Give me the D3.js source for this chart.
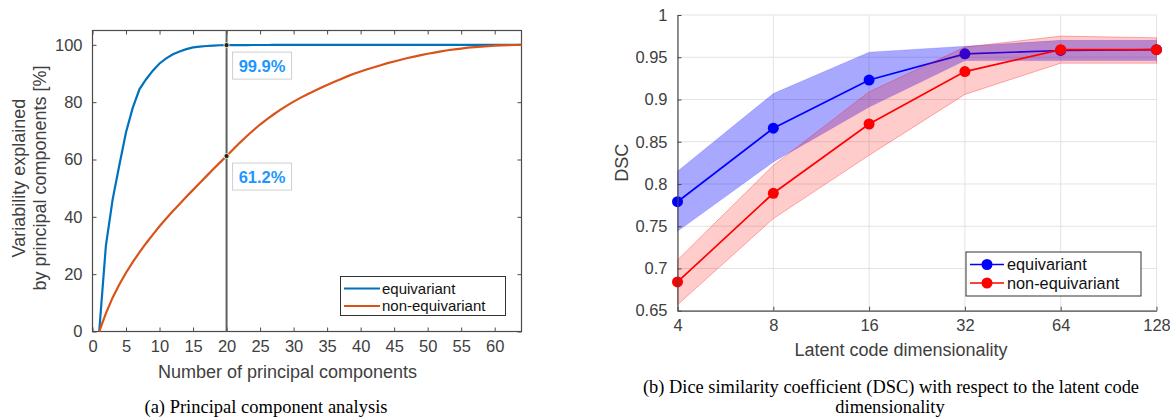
<!DOCTYPE html>
<html>
<head>
<meta charset="utf-8">
<script src="https://d3js.org/d3.v7.min.js"></script>
<style>
  body { margin: 0; background: #fff; }
  svg { display: block; }
  text { font-family: "Liberation Sans", Arial, sans-serif; fill: #404040; }
  .cap { font-family: "Liberation Serif", "Times New Roman", serif; fill: #000; }
</style>
</head>
<body>
<div id="chart"></div>
<script>
// Data: PCA (left)
var components = d3.range(1, 65);
var equivariant = [0, 30, 46, 58, 69.5, 78, 84.5, 88, 91, 93.5,
  95.3, 96.7, 97.7, 98.5, 99.1, 99.4, 99.6, 99.75, 99.85, 99.9,
  99.91, 99.92, 99.93, 99.94, 99.95, 99.95, 99.96, 99.96, 99.97, 99.97,
  99.97, 99.98, 99.98, 99.98, 99.98, 99.99, 99.99, 99.99, 99.99, 99.99,
  99.99, 99.99, 100, 100, 100, 100, 100, 100, 100, 100,
  100, 100, 100, 100, 100, 100, 100, 100, 100, 100,
  100, 100, 100, 100];
var nonEquivariant = [0, 6.3, 11.8, 16.4, 20.5, 24.2, 27.6, 30.8, 33.8, 36.7,
  39.4, 42, 44.5, 47, 49.4, 51.8, 54.2, 56.6, 58.9, 61.2,
  63.6, 65.9, 68.1, 70.2, 72.2, 74, 75.7, 77.3, 78.8, 80.2,
  81.5, 82.7, 83.8, 84.9, 86, 87, 88, 89, 89.9, 90.7,
  91.5, 92.2, 92.9, 93.6, 94.2, 94.8, 95.4, 95.9, 96.4, 96.9,
  97.3, 97.7, 98.1, 98.4, 98.7, 99, 99.2, 99.4, 99.55, 99.7,
  99.8, 99.9, 99.95, 100];
var pcaXTicks = d3.range(0, 61, 5);
var pcaYTicks = [0, 20, 40, 60, 80, 100];
var cutoff = 20;
var tipLabels = ["99.9%", "61.2%"];

// Data: DSC (right)
var dims = [4, 8, 16, 32, 64, 128];
var dscEq = [0.779, 0.866, 0.923, 0.954, 0.958, 0.959];
var dscEqLo = [0.744, 0.826, 0.891, 0.946, 0.946, 0.946];
var dscEqHi = [0.815, 0.907, 0.956, 0.963, 0.970, 0.970];
var dscNon = [0.684, 0.789, 0.871, 0.933, 0.959, 0.959];
var dscNonLo = [0.657, 0.759, 0.834, 0.906, 0.943, 0.943];
var dscNonHi = [0.710, 0.822, 0.909, 0.962, 0.975, 0.973];
var dscYTicks = [0.65, 0.7, 0.75, 0.8, 0.85, 0.9, 0.95, 1];
var legendNames = ["equivariant", "non-equivariant"];

var svg = d3.select("#chart").append("svg")
  .attr("width", 1170).attr("height", 418);

var axisCol = "#4a4a4a";
var tickFont = 16.5;

// ---------- left chart ----------
var L = { left: 92.5, right: 521.5, top: 30.5, bottom: 331.5 };
var x1 = d3.scaleLinear().domain([0, 64]).range([L.left, L.right]);
var y1 = d3.scaleLinear().domain([0, 105]).range([L.bottom, L.top]);
var g1 = svg.append("g");

g1.append("g").attr("transform", `translate(0,${L.bottom})`)
  .call(d3.axisBottom(x1).tickValues(pcaXTicks).tickSizeInner(-4).tickSizeOuter(0).tickPadding(9))
  .call(a => a.select(".domain").remove());
g1.append("g").attr("transform", `translate(0,${L.top})`)
  .call(d3.axisTop(x1).tickValues(pcaXTicks).tickSizeInner(-4).tickSizeOuter(0).tickFormat(""))
  .call(a => a.select(".domain").remove());
g1.append("g").attr("transform", `translate(${L.left},0)`)
  .call(d3.axisLeft(y1).tickValues(pcaYTicks).tickSizeInner(-4).tickSizeOuter(0).tickPadding(10))
  .call(a => a.select(".domain").remove());
g1.append("g").attr("transform", `translate(${L.right},0)`)
  .call(d3.axisRight(y1).tickValues(pcaYTicks).tickSizeInner(-4).tickSizeOuter(0).tickFormat(""))
  .call(a => a.select(".domain").remove());
g1.selectAll(".tick line").attr("stroke", axisCol);
g1.selectAll(".tick text").attr("font-size", tickFont).style("fill", "#404040")
  .attr("font-family", "Liberation Sans, Arial, sans-serif");
g1.append("rect").attr("x", L.left).attr("y", L.top)
  .attr("width", L.right - L.left).attr("height", L.bottom - L.top)
  .attr("fill", "none").attr("stroke", axisCol).attr("stroke-width", 1.2);

var line1 = d3.line().x((d, i) => x1(components[i])).y(d => y1(d));
g1.append("path").datum(equivariant).attr("d", line1)
  .attr("fill", "none").attr("stroke", "#0072BD").attr("stroke-width", 2.2);
g1.append("path").datum(nonEquivariant).attr("d", line1)
  .attr("fill", "none").attr("stroke", "#D95319").attr("stroke-width", 2.2);

// cutoff line
g1.append("line").attr("x1", x1(cutoff)).attr("x2", x1(cutoff))
  .attr("y1", L.top).attr("y2", L.bottom)
  .attr("stroke", "#606060").attr("stroke-width", 2);

// data tips
var tipVals = [equivariant[cutoff - 1], nonEquivariant[cutoff - 1]];
tipVals.forEach(function(v, i) {
  g1.append("circle").attr("cx", x1(cutoff)).attr("cy", y1(v)).attr("r", 2.6)
    .attr("fill", "#222").attr("stroke", "#f3f0c8").attr("stroke-width", 1);
  var by = y1(v) + 7;
  g1.append("rect").attr("x", x1(cutoff) + 6).attr("y", by)
    .attr("width", 59).attr("height", 27)
    .attr("fill", "#fff").attr("stroke", "#cfcfcf").attr("stroke-width", 1);
  g1.append("text").attr("x", x1(cutoff) + 35.5).attr("y", by + 19.5)
    .attr("text-anchor", "middle").attr("font-size", 16.5).attr("font-weight", "bold")
    .style("fill", "#1e96ff").text(tipLabels[i]);
});

// legend left
var lg1 = g1.append("g").attr("transform", "translate(340.5,276.5)");
lg1.append("rect").attr("width", 165).attr("height", 39)
  .attr("fill", "#fff").attr("stroke", "#333").attr("stroke-width", 1);
[["#0072BD", legendNames[0]], ["#D95319", legendNames[1]]].forEach(function(e, i) {
  var yy = 12 + i * 17.5;
  lg1.append("line").attr("x1", 3.5).attr("x2", 39.5).attr("y1", yy).attr("y2", yy)
    .attr("stroke", e[0]).attr("stroke-width", 2.2);
  lg1.append("text").attr("x", 41.5).attr("y", yy + 5.3).attr("font-size", 15)
    .style("fill", "#111").text(e[1]);
});

// labels left
g1.append("text").attr("x", 287.5).attr("y", 378)
  .attr("text-anchor", "middle").attr("font-size", 18).text("Number of principal components");
var yl = g1.append("text").attr("transform", `translate(25,178) rotate(-90)`)
  .attr("text-anchor", "middle").attr("font-size", 18);
yl.append("tspan").attr("x", 0).attr("dy", 0).text("Variability explained");
yl.append("tspan").attr("x", 0).attr("dy", 21).text("by principal components [%]");

svg.append("text").attr("class", "cap").attr("x", 266).attr("y", 413)
  .attr("text-anchor", "middle").attr("font-size", 18.5).text("(a) Principal component analysis");

// ---------- right chart ----------
var R = { left: 677.5, right: 1156.5, top: 15, bottom: 310.7 };
var x2 = d3.scaleLog().base(2).domain([4, 128]).range([R.left, R.right]);
var y2 = d3.scaleLinear().domain([0.65, 1]).range([R.bottom, R.top]);
var g2 = svg.append("g");

// grid
g2.append("g").selectAll("line").data(dims).enter().append("line")
  .attr("x1", d => x2(d)).attr("x2", d => x2(d)).attr("y1", R.top).attr("y2", R.bottom)
  .attr("stroke", "#e3e3e3").attr("stroke-width", 1);
g2.append("g").selectAll("line").data(dscYTicks).enter().append("line")
  .attr("x1", R.left).attr("x2", R.right).attr("y1", d => y2(d)).attr("y2", d => y2(d))
  .attr("stroke", "#e3e3e3").attr("stroke-width", 1);

var area2 = function(lo, hi) {
  return d3.area().x((d, i) => x2(dims[i])).y0((d, i) => y2(lo[i])).y1((d, i) => y2(hi[i]))(dims);
};
var line2 = d3.line().x((d, i) => x2(dims[i])).y(d => y2(d));

g2.append("path").attr("d", area2(dscEqLo, dscEqHi))
  .attr("fill", "rgba(0,0,255,0.34)").attr("stroke", "rgba(0,0,255,0.15)").attr("stroke-width", 1);
g2.append("path").datum(dscEq).attr("d", line2)
  .attr("fill", "none").attr("stroke", "#0000ff").attr("stroke-width", 1.7);
g2.selectAll(".mEq").data(dscEq).enter().append("circle").attr("class", "mEq")
  .attr("cx", (d, i) => x2(dims[i])).attr("cy", d => y2(d)).attr("r", 5.5).attr("fill", "#0000ff");

g2.append("path").attr("d", area2(dscNonLo, dscNonHi))
  .attr("fill", "rgba(255,0,0,0.2)").attr("stroke", "rgba(255,0,0,0.3)").attr("stroke-width", 1);
g2.append("path").datum(dscNon).attr("d", line2)
  .attr("fill", "none").attr("stroke", "#ff0000").attr("stroke-width", 1.7);
g2.selectAll(".mNon").data(dscNon).enter().append("circle").attr("class", "mNon")
  .attr("cx", (d, i) => x2(dims[i])).attr("cy", d => y2(d)).attr("r", 5.5).attr("fill", "#ff0000");

// axes
var ax2 = g2.append("g").attr("transform", `translate(0,${R.bottom})`)
  .call(d3.axisBottom(x2).tickValues(dims).tickFormat(d3.format("d"))
    .tickSizeInner(-4).tickSizeOuter(0).tickPadding(9));
var ay2 = g2.append("g").attr("transform", `translate(${R.left},0)`)
  .call(d3.axisLeft(y2).tickValues(dscYTicks).tickFormat(d => String(+d.toFixed(2)))
    .tickSizeInner(-4).tickSizeOuter(0).tickPadding(10));
[ax2, ay2].forEach(function(a) {
  a.select(".domain").attr("stroke", axisCol).attr("stroke-width", 1.2);
  a.selectAll(".tick line").attr("stroke", axisCol);
  a.selectAll(".tick text").attr("font-size", tickFont).style("fill", "#404040")
    .attr("font-family", "Liberation Sans, Arial, sans-serif");
});

// legend right
var lg2 = g2.append("g").attr("transform", "translate(966,252)");
lg2.append("rect").attr("width", 175).attr("height", 44)
  .attr("fill", "#fff").attr("stroke", "#333").attr("stroke-width", 1);
[["#0000ff", legendNames[0]], ["#ff0000", legendNames[1]]].forEach(function(e, i) {
  var yy = 12.5 + i * 18.5;
  lg2.append("line").attr("x1", 4).attr("x2", 38).attr("y1", yy).attr("y2", yy)
    .attr("stroke", e[0]).attr("stroke-width", 1.7);
  lg2.append("circle").attr("cx", 21).attr("cy", yy).attr("r", 5.5).attr("fill", e[0]);
  lg2.append("text").attr("x", 41).attr("y", yy + 5.8).attr("font-size", 16.3)
    .style("fill", "#111").text(e[1]);
});

g2.append("text").attr("x", 901).attr("y", 356)
  .attr("text-anchor", "middle").attr("font-size", 18).text("Latent code dimensionality");
g2.append("text").attr("transform", `translate(628,${(R.top + R.bottom) / 2}) rotate(-90)`)
  .attr("text-anchor", "middle").attr("font-size", 18).text("DSC");

svg.append("text").attr("class", "cap").attr("x", 891).attr("y", 392.5)
  .attr("text-anchor", "middle").attr("font-size", 18.4)
  .text("(b) Dice similarity coefficient (DSC) with respect to the latent code");
svg.append("text").attr("class", "cap").attr("x", 890).attr("y", 413)
  .attr("text-anchor", "middle").attr("font-size", 18.4).text("dimensionality");
</script>
</body>
</html>
